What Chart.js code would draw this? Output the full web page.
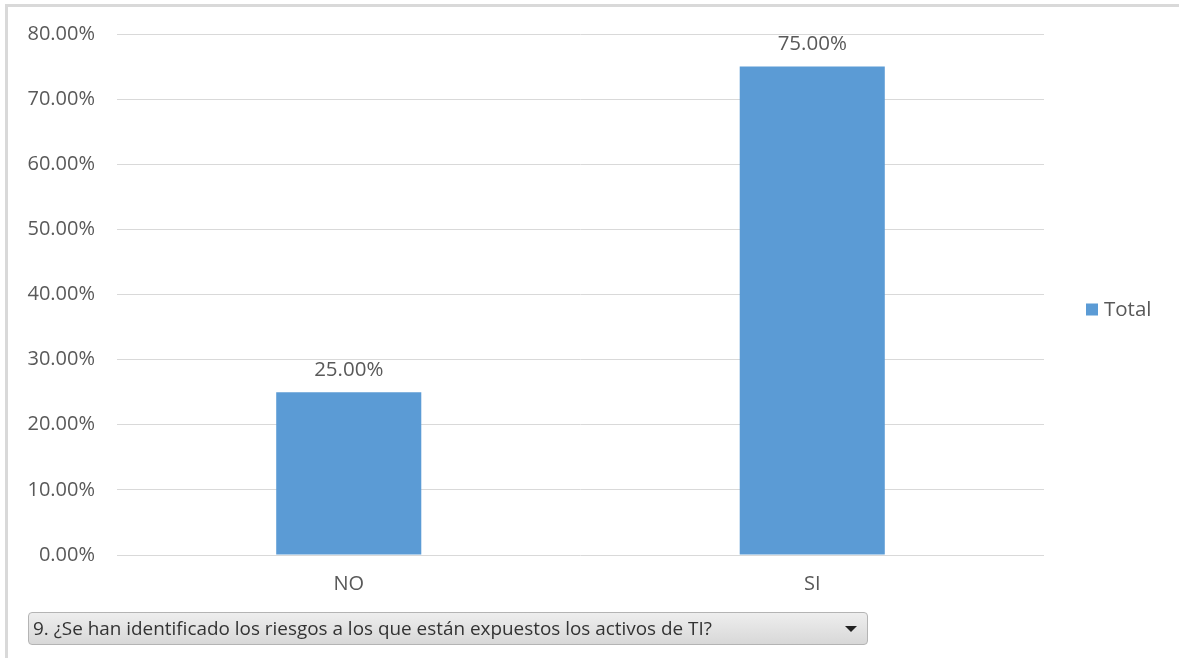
<!DOCTYPE html>
<html>
<head>
<meta charset="utf-8">
<script src="https://cdn.jsdelivr.net/npm/chart.js@4.4.1/dist/chart.umd.min.js"></script>
<style>
  html, body { margin: 0; padding: 0; background: #fff; }
  body { width: 1179px; height: 658px; position: relative; overflow: hidden; font-family: "Open Sans", "Noto Sans", sans-serif; }
  .frame { position: absolute; left: 5px; top: 4px; width: 1180px; height: 700px;
           border-left: 3px solid #d9d9d9; border-top: 3px solid #d9d9d9; }
  #wrap { position: absolute; left: 0; top: 0; width: 1179px; height: 613px; }
  .filter { position: absolute; left: 28px; top: 612px; width: 834px; height: 31px;
            border: 1px solid #b4b4b4; border-radius: 4px;
            background: linear-gradient(#eeeeee, #d8d8d8);
            color: #333; font-size: 18.9px; line-height: 31px; padding-left: 4px; box-sizing: content-box;
            white-space: nowrap; }
  .filter .arrow { position: absolute; right: 10px; top: 13px; width: 0; height: 0;
                   border-left: 6px solid transparent; border-right: 6px solid transparent; border-top: 6px solid #222; }
</style>
</head>
<body>
<div class="frame"></div>
<div id="wrap"><canvas id="c" width="1179" height="613"></canvas></div>
<div class="filter"><span id="question"></span><div class="arrow"></div></div>
<script>
const categories = ["NO", "SI"];
const seriesName = "Total";
const values = [25, 75];
const tickValues = [0, 10, 20, 30, 40, 50, 60, 70, 80];
const questionText = "9. ¿Se han identificado los riesgos a los que están expuestos los activos de TI?";

document.getElementById("question").textContent = questionText;

const fmt = v => v.toFixed(2) + "%";
const textColor = "#595959";
const barColor = "#5b9bd5";
const fontFamily = '"Open Sans", "Noto Sans", sans-serif';

// value labels above each bar
const valueLabels = {
  id: "valueLabels",
  afterDatasetsDraw(chart) {
    const ctx = chart.ctx;
    ctx.save();
    ctx.font = "20.5px " + fontFamily;
    ctx.fillStyle = textColor;
    ctx.textAlign = "center";
    ctx.textBaseline = "bottom";
    chart.getDatasetMeta(0).data.forEach((bar, i) => {
      ctx.fillText(fmt(values[i]), bar.x, bar.y - 12);
    });
    ctx.restore();
  }
};

// legend entry in the right margin, beside the plot area
const sideLegend = {
  id: "sideLegend",
  afterDraw(chart) {
    const ctx = chart.ctx;
    const area = chart.chartArea;
    const x = area.right + 42;
    const y = (area.top + area.bottom) / 2 + 15;
    ctx.save();
    ctx.fillStyle = barColor;
    ctx.fillRect(x, y - 6, 12, 12);
    ctx.font = "20.5px " + fontFamily;
    ctx.fillStyle = textColor;
    ctx.textAlign = "left";
    ctx.textBaseline = "middle";
    ctx.fillText(seriesName, x + 18, y + 1);
    ctx.restore();
  }
};

new Chart(document.getElementById("c"), {
  type: "bar",
  data: {
    labels: categories,
    datasets: [{
      label: seriesName,
      data: values,
      backgroundColor: barColor,
      borderWidth: 0,
      categoryPercentage: 1,
      barPercentage: 0.313
    }]
  },
  options: {
    responsive: false,
    animation: false,
    layout: { padding: { top: 25, right: 135, bottom: 0, left: 0 } },
    plugins: {
      legend: { display: false },
      tooltip: { enabled: false }
    },
    scales: {
      x: {
        grid: { display: false, drawTicks: false },
        border: { display: false },
        ticks: { color: textColor, padding: 17, font: { size: 20, family: fontFamily } }
      },
      y: {
        min: 0, max: 80,
        afterFit(scale) { scale.width = 117; },
        afterBuildTicks(scale) { scale.ticks = tickValues.map(v => ({ value: v })); },
        grid: { color: "#d9d9d9", lineWidth: 1, drawTicks: false },
        border: { display: false },
        ticks: { color: textColor, padding: 22, font: { size: 20, family: fontFamily },
                 callback: v => fmt(v) }
      }
    }
  },
  plugins: [valueLabels, sideLegend]
});
</script>
</body>
</html>
